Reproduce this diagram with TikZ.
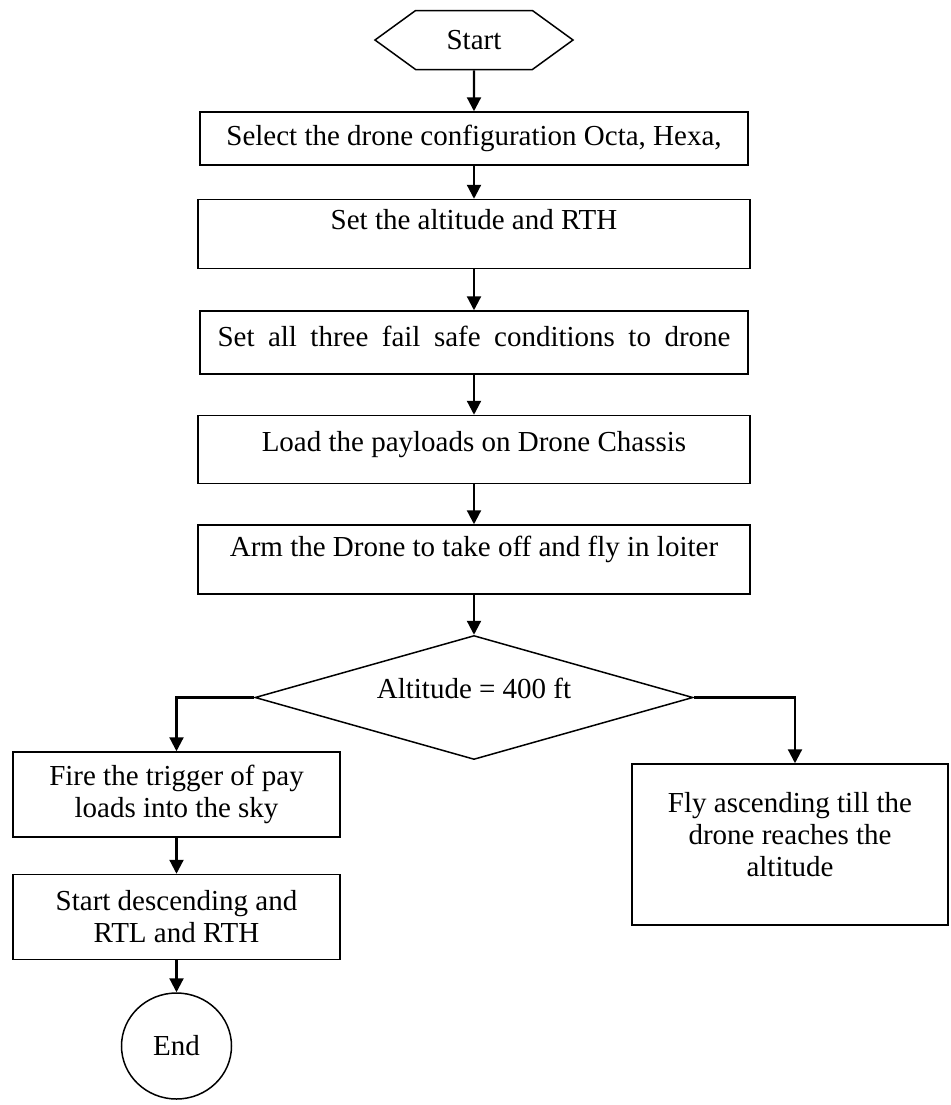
\documentclass[tikz,border=0pt]{standalone}
\usepackage{fontspec}
\setmainfont{Liberation Serif}
\usetikzlibrary{arrows.meta, positioning, shapes.geometric, shapes.symbols}

\begin{document}
\begin{tikzpicture}[
  x=0.5pt, y=-0.5pt,
  every node/.style={font=\fontsize{14.5}{16}\selectfont},
  box/.style={rectangle, draw, line width=0.75pt, minimum width=274pt,
              minimum height=34pt, align=center, inner sep=2pt},
  arrow/.style={-{Triangle[length=7pt, width=7pt]}, line width=1.1pt},
]
\useasboundingbox (0,0) rectangle (950,1105);

\node[signal, signal to=west and east, signal pointer angle=72, draw,
      line width=0.75pt, minimum width=99pt, minimum height=29.5pt]
  (start) at (474,40) {Start};

\node[box, below=20.5pt of start, minimum height=26.5pt] (config)
  {Select the drone configuration Octa, Hexa,};
\node[box, below=16.5pt of config, minimum width=276pt, minimum height=34.5pt,
      text depth=14.5pt] (altset) {Set the altitude and RTH};
\node[box, below=20.5pt of altset, minimum height=31.5pt, text depth=6.5pt] (failsafe)
  {\makebox[256.5pt][s]{Set all three fail safe conditions to drone}};
\node[box, below=20pt of failsafe, minimum width=276pt, text depth=8pt] (payload)
  {Load the payloads on Drone Chassis};
\node[box, below=20pt of payload, minimum width=276pt, minimum height=34.5pt,
      text depth=13.5pt] (arm) {Arm the Drone to take off and fly in loiter};

\node[diamond, draw, line width=0.75pt, aspect=3.5, inner sep=0pt,
      minimum width=219pt, minimum height=62pt, text depth=9pt, below=20pt of arm]
  (check) {Altitude = 400 ft};

% ---- branches ----
\node[box, minimum width=163.5pt, minimum height=42.5pt] (fire) at (176.5,794.5)
  {Fire the trigger of pay\\loads into the sky};
\node[box, minimum width=163.5pt, minimum height=42.5pt, below=18pt of fire]
  (descend) {Start descending and\\RTL and RTH};
\node[ellipse, draw, line width=0.75pt, minimum width=55pt, minimum height=53pt,
      below=16pt of descend] (end) {End};

\node[box, minimum width=158pt, minimum height=80.5pt, text depth=10pt] (fly)
  at (790,844.5) {Fly ascending till the\\drone reaches the\\altitude};

% ---- arrows ----
\draw[arrow] (start) -- (config);
\draw[arrow] (config) -- (altset);
\draw[arrow] (altset) -- (failsafe);
\draw[arrow] (failsafe) -- (payload);
\draw[arrow] (payload) -- (arm);
\draw[arrow] (arm) -- (check);
\draw[arrow] (check.west) -| (fire.north);
\draw[arrow] (check.east) -| ([xshift=2.5pt]fly.north);
\draw[arrow] (fire) -- (descend);
\draw[arrow] (descend) -- (end);

\end{tikzpicture}
\end{document}
